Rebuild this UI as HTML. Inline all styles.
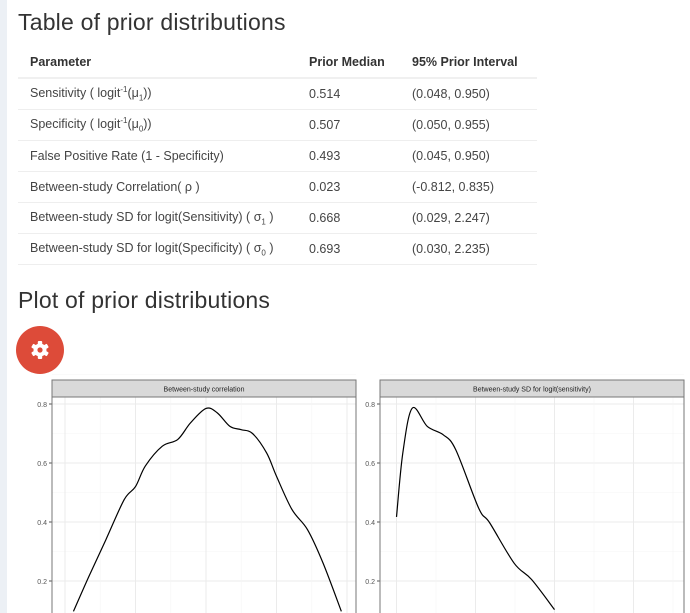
<!DOCTYPE html>
<html><head><meta charset="utf-8">
<style>
body{margin:0;width:690px;height:613px;overflow:hidden;background:#fff;font-family:"Liberation Sans",sans-serif;color:#333;position:relative}
#strip{position:absolute;left:0;top:0;width:7px;height:613px;background:#ecf0f5}
h2{position:absolute;left:18px;margin:0;font-weight:normal;font-size:23px;color:#333;letter-spacing:0.2px}
table{position:absolute;left:18px;top:46px;width:519px;border-collapse:collapse;font-size:12.5px}
th{font-weight:bold;text-align:left;height:31px;padding:0 0 0 12px;border-bottom:2px solid #f0f0f0}
td{height:30px;padding:0 0 0 12px;border-bottom:1px solid #eee;color:#444}
sup,sub{font-size:8px}
#gear{position:absolute;left:16px;top:326px;width:48px;height:48px;border-radius:50%;background:#dd4b39}
</style></head><body>
<div id="strip"></div>
<h2 style="top:9px">Table of prior distributions</h2>
<table>
<tr><th style="width:267px">Parameter</th><th style="width:91px">Prior Median</th><th>95% Prior Interval</th></tr>
<tr><td>Sensitivity ( logit<sup>-1</sup>(μ<sub>1</sub>))</td><td>0.514</td><td>(0.048, 0.950)</td></tr>
<tr><td>Specificity ( logit<sup>-1</sup>(μ<sub>0</sub>))</td><td>0.507</td><td>(0.050, 0.955)</td></tr>
<tr><td>False Positive Rate (1 - Specificity)</td><td>0.493</td><td>(0.045, 0.950)</td></tr>
<tr><td>Between-study Correlation( ρ )</td><td>0.023</td><td>(-0.812, 0.835)</td></tr>
<tr><td>Between-study SD for logit(Sensitivity) ( σ<sub>1</sub> )</td><td>0.668</td><td>(0.029, 2.247)</td></tr>
<tr><td>Between-study SD for logit(Specificity) ( σ<sub>0</sub> )</td><td>0.693</td><td>(0.030, 2.235)</td></tr>
</table>
<h2 style="top:287px">Plot of prior distributions</h2>
<div id="gear">
<svg width="48" height="48" viewBox="0 0 48 48"><g transform="translate(24,24)" fill="#fff">
<circle r="6.5"/><rect x="-2.2" y="-9" width="4.4" height="18" rx="1"/><rect x="-2.2" y="-9" width="4.4" height="18" rx="1" transform="rotate(60)"/><rect x="-2.2" y="-9" width="4.4" height="18" rx="1" transform="rotate(120)"/><circle r="2.6" fill="#dd4b39"/></g></svg>
</div>
<svg id="chart" width="690" height="613" style="position:absolute;left:0;top:0"></svg>
<script>
const corrX=[-0.94,-0.83,-0.71,-0.58,-0.50,-0.43,-0.31,-0.20,-0.11,0,0.08,0.17,0.25,0.33,0.43,0.50,0.61,0.72,0.83,0.96];
const corrY=[0.097,0.216,0.34,0.476,0.52,0.59,0.657,0.68,0.736,0.785,0.77,0.724,0.713,0.70,0.634,0.555,0.442,0.374,0.261,0.097];
const sdX=[0,0.08,0.2,0.39,0.59,0.75,1.04,1.18,1.49,1.71,2.0];
const sdY=[0.417,0.634,0.786,0.724,0.696,0.645,0.447,0.397,0.26,0.205,0.103];
const yTicks=[0.2,0.4,0.6,0.8];
const panelTitles=["Between-study correlation","Between-study SD for logit(sensitivity)"];
const NS="http://www.w3.org/2000/svg";
const svg=document.getElementById('chart');
function mk(t,a,p){const e=document.createElementNS(NS,t);for(const k in a)e.setAttribute(k,a[k]);(p||svg).appendChild(e);return e;}
const yScale=v=>640-v*295;
const panels=[
 {x0:52,x1:356,xs:v=>206+v*141,major:[-1,-0.5,0,0.5,1],minor:[-0.75,-0.25,0.25,0.75],X:corrX,Y:corrY},
 {x0:380,x1:684,xs:v=>396.5+v*79,major:[0,1,2,3],minor:[0.5,1.5,2.5,3.5],X:sdX,Y:sdY}
];
panels.forEach((p,i)=>{
 const g=mk('g',{});
 
 
 mk('rect',{x:p.x0,y:397,width:p.x1-p.x0,height:230,fill:'#fff'},g);
 yTicks.forEach(t=>{mk('line',{x1:p.x0,x2:p.x1,y1:yScale(t),y2:yScale(t),stroke:'#ebebeb','stroke-width':1},g);
   mk('line',{x1:p.x0,x2:p.x1,y1:yScale(t+0.1),y2:yScale(t+0.1),stroke:'#f5f5f5','stroke-width':0.6},g);
   const tl=mk('text',{x:p.x0-5,y:yScale(t)+3,'text-anchor':'end','font-size':7,fill:'#555'},g);
   
   
   tl.textContent=t.toFixed(1);
   mk('line',{x1:p.x0-3,x2:p.x0,y1:yScale(t),y2:yScale(t),stroke:'#555'},g);});
 p.minor.forEach(v=>mk('line',{x1:p.xs(v),x2:p.xs(v),y1:397,y2:613,stroke:'#f5f5f5','stroke-width':0.6},g));
 p.major.forEach(v=>mk('line',{x1:p.xs(v),x2:p.xs(v),y1:397,y2:613,stroke:'#ebebeb','stroke-width':1},g));
 const pts=p.X.map((x,j)=>[p.xs(x),yScale(p.Y[j])]);
 let d='M'+pts[0][0]+','+pts[0][1];
 for(let j=0;j<pts.length-1;j++){const a=pts[j-1]||pts[j],b=pts[j],c=pts[j+1],e=pts[j+2]||c;
  d+=' C'+(b[0]+(c[0]-a[0])/6)+','+(b[1]+(c[1]-a[1])/6)+' '+(c[0]-(e[0]-b[0])/6)+','+(c[1]-(e[1]-b[1])/6)+' '+c[0]+','+c[1];}
 const path=mk('path',{d:d,fill:'none',stroke:'#000','stroke-width':1.2},g);
 
 
 mk('rect',{x:p.x0,y:397,width:p.x1-p.x0,height:230,fill:'none',stroke:'#777','stroke-width':1},g);
 const st=mk('rect',{x:p.x0,y:380,width:p.x1-p.x0,height:17,fill:'#d9d9d9',stroke:'#777','stroke-width':1},g);
 
 
 const tt=mk('text',{x:(p.x0+p.x1)/2,y:391.5,'text-anchor':'middle','font-size':7,fill:'#222'},g);
 
 
 tt.textContent=panelTitles[i];
});
</script>
</body></html>
